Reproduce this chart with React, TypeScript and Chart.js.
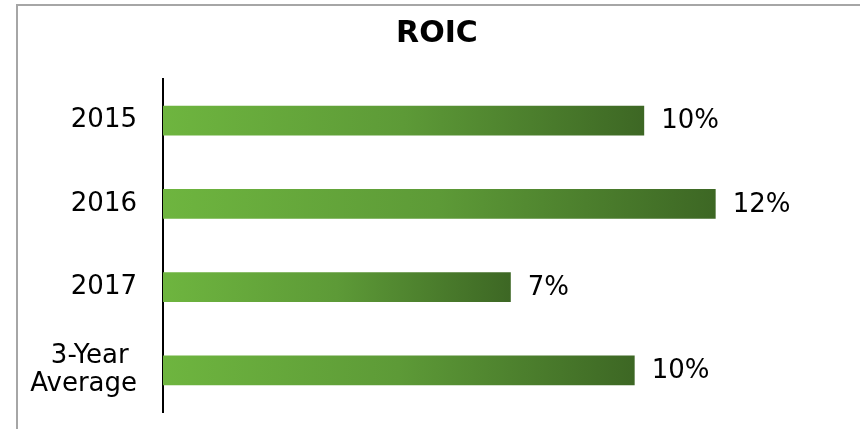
import React, { useEffect, useRef } from "react";
import { Chart, registerables } from "chart.js";

Chart.register(...registerables);

const chartTitle = "ROIC";
const categories: (string | string[])[] = ["2015", "2016", "2017", ["3-Year ", "Average"]];
const roicValues = [0.101, 0.116, 0.073, 0.099];
const axisMin = 0;
const axisMax = 0.14;

const LIGHT = "#6eb53f";
const DARK = "#3d6724";
const FONT = "'DejaVu Sans', Verdana, sans-serif";

const valueLabelPlugin = {
  id: "valueLabels",
  afterDatasetsDraw(chart: any) {
    const ctx = chart.ctx;
    const meta = chart.getDatasetMeta(0);
    ctx.save();
    ctx.font = `26px ${FONT}`;
    ctx.fillStyle = "#000000";
    ctx.textAlign = "left";
    ctx.textBaseline = "middle";
    meta.data.forEach((bar: any, i: number) => {
      const v = chart.data.datasets[0].data[i] as number;
      const txt = `${Math.round(v * 100)}%`;
      ctx.fillText(txt, bar.x + 17, bar.y + 1);
    });
    ctx.restore();
  },
};

const boxTitlePlugin = {
  id: "boxTitle",
  afterDraw(chart: any) {
    const ctx = chart.ctx;
    ctx.save();
    ctx.font = `bold 30px ${FONT}`;
    ctx.fillStyle = "#000000";
    ctx.textAlign = "center";
    ctx.textBaseline = "middle";
    ctx.fillText(chartTitle, 437, 34);
    ctx.restore();
  },
};

export default function App() {
  const canvasRef = useRef<HTMLCanvasElement | null>(null);

  useEffect(() => {
    if (!canvasRef.current) return;
    const chart = new Chart(canvasRef.current, {
      type: "bar",
      data: {
        labels: categories,
        datasets: [
          {
            data: roicValues,
            backgroundColor: (c: any) => {
              const ch = c.chart;
              const area = ch.chartArea;
              const xs = ch.scales?.x;
              if (!area || !xs || c.dataIndex === undefined) return LIGHT;
              const v = c.raw as number;
              const x0 = xs.getPixelForValue(axisMin);
              const x1 = xs.getPixelForValue(v);
              const g = ch.ctx.createLinearGradient(x0, 0, x1, 0);
              g.addColorStop(0, LIGHT);
              g.addColorStop(0.5, "#5d9a37");
              g.addColorStop(1, DARK);
              return g;
            },
            borderWidth: 0,
            barPercentage: 0.36,
            categoryPercentage: 1,
          },
        ],
      },
      options: {
        indexAxis: "y",
        responsive: false,
        animation: false,
        events: [],
        layout: { padding: { left: 0, right: 30, top: 79, bottom: 17 } },
        plugins: {
          legend: { display: false },
          tooltip: { enabled: false },
          title: { display: false },
        },
        scales: {
          x: {
            display: false,
            min: axisMin,
            max: axisMax,
          },
          y: {
            grid: { display: false, drawTicks: false },
            border: { display: true, color: "#000000", width: 2 },
            ticks: {
              color: "#000000",
              padding: 26,
              font: { family: FONT, size: 26, lineHeight: 1.05 },
            },
            afterFit: (scale: any) => {
              scale.width = 163;
              scale.paddingTop = 0;
              scale.paddingBottom = 0;
            },
          },
        },
      },
      plugins: [valueLabelPlugin, boxTitlePlugin],
    });
    return () => chart.destroy();
  }, []);

  return (
    <div
      style={{
        position: "fixed",
        left: 0,
        top: 0,
        width: 860,
        height: 429,
        overflow: "hidden",
        background: "#ffffff",
      }}
    >
      <div
        style={{
          position: "absolute",
          left: 16,
          top: 4,
          width: 900,
          height: 500,
          border: "2px solid #a6a6a6",
          boxSizing: "border-box",
        }}
      />
      <canvas
        ref={canvasRef}
        width={860}
        height={429}
        style={{ position: "absolute", left: 0, top: 0 }}
      />
    </div>
  );
}
